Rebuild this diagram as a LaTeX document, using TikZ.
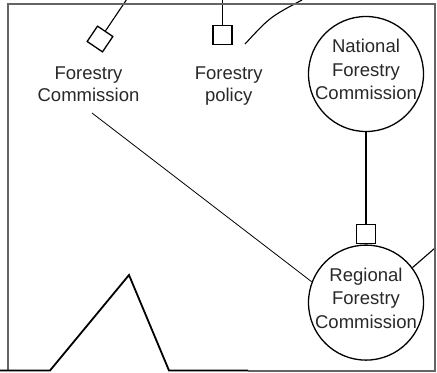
\documentclass[tikz,border=0pt]{standalone}
\usepackage{fontspec}
\setmainfont{Liberation Sans}
\usetikzlibrary{positioning}
\definecolor{framegray}{RGB}{100,100,100}
\definecolor{inkgray}{RGB}{40,40,40}

\begin{document}
\begin{tikzpicture}[x=1bp,y=-1bp,
    ring/.style={draw, circle, line width=1.3bp, minimum size=115bp, inner sep=-8bp,
        align=center, text=inkgray, font=\fontsize{18.5bp}{23.5bp}\selectfont,
        execute at end node={\rule[-9bp]{0pt}{9bp}}},
    lbl/.style={align=center, inner sep=0pt, anchor=north, text=inkgray,
        font=\fontsize{18.5bp}{22bp}\selectfont},
    box/.style={draw, line width=1.3bp, minimum size=19bp, inner sep=0pt},
    link/.style={line width=1.1bp},
    thinlink/.style={line width=0.8bp}]
    \useasboundingbox (0,0) rectangle (437,372);

    \node[box, rotate=-34, minimum size=18.5bp] (fcbox) at (100,39) {};
    \node[lbl] (fclabel) at (88.5,66.5) {Forestry\\Commission};
    \node[box] (fpbox) at (222.5,35) {};
    \node[lbl] (fplabel) at (228.7,66.5) {Forestry\\policy};
    \node[ring] (nfc) at (366,74) {National\\Forestry\\Commission};
    \node[box, below=92bp of nfc] (rfcbox) {};
    \node[ring, below=0pt of rfcbox] (rfc) {Regional\\Forestry\\Commission};

    \coordinate (fctop) at (126.3,0);
    \coordinate (fptop) at (222.5,0);
    \coordinate (fcfoot) at (92,113);
    \coordinate (curvefoot) at (245,44);
    \coordinate (curvetop) at (302,0);
    \coordinate (rightend) at (435,248);

    \draw[link] (fcbox.north) -- (fctop);
    \draw[link] (fpbox.north) -- (fptop);
    \draw[link] (curvefoot) .. controls (270,17) .. (curvetop);
    \draw[link] (nfc.south) -- (rfcbox.north);
    \draw[link] (rfc.37) -- (rightend);
    \draw[thinlink] (fcfoot) -- (rfc.159);

    \draw[framegray, line width=1.6bp] (8,370) -- (8,4) -- (435,4) -- (435,371) -- (248,371);
    \draw[line width=1.8bp] (0,370.5) -- (50,370.5) -- (129,275) -- (169,370.5) -- (248,370.5);
\end{tikzpicture}
\end{document}
